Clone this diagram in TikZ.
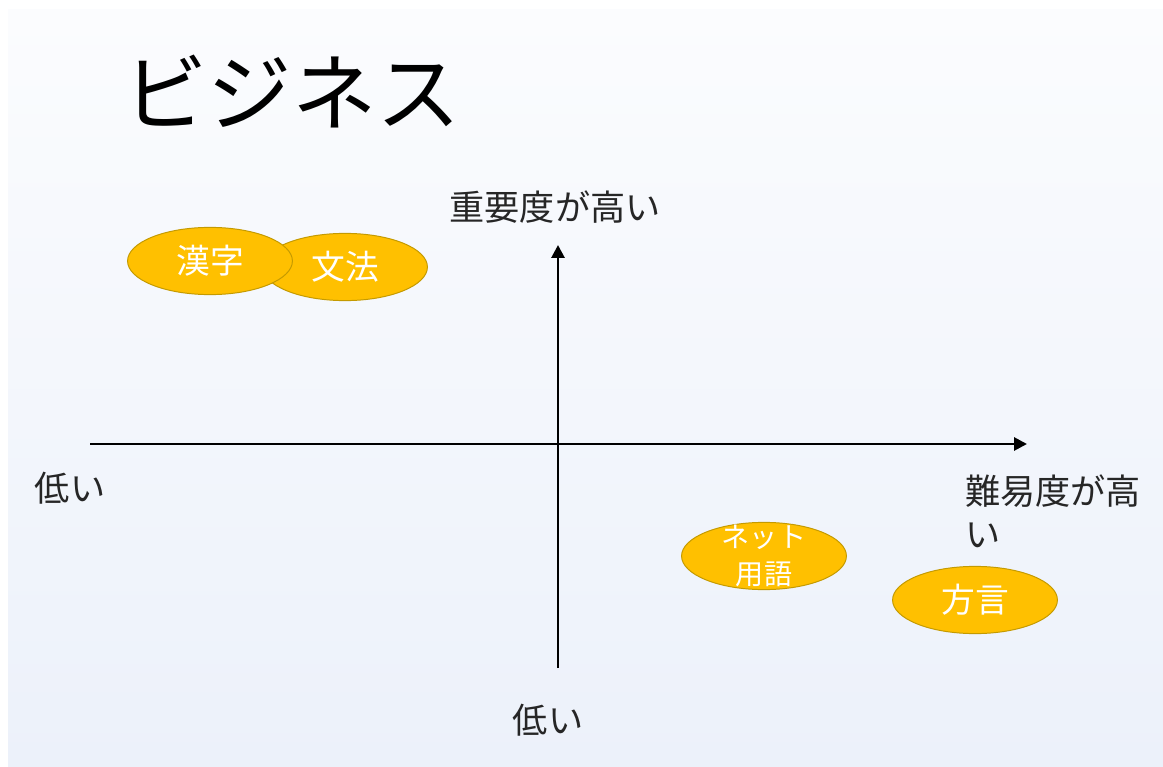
\documentclass[tikz,border=0pt]{standalone}
\usepackage{fontspec}
\setmainfont{Noto Sans CJK JP}
\usetikzlibrary{shapes.geometric,arrows.meta}
\definecolor{slidetop}{HTML}{FBFCFE}
\definecolor{slidebot}{HTML}{ECF1FA}
\definecolor{gold}{HTML}{FFC000}
\definecolor{golddark}{HTML}{C49A00}
\definecolor{labelgray}{HTML}{262626}
\tikzset{
    topic/.style={ellipse,draw=golddark,fill=gold,line width=0.7pt,
        minimum width=4.12cm,minimum height=1.68cm,inner sep=0pt,
        text=white,font=\fontsize{24}{28}\selectfont},
    topictext/.style={text=white,inner sep=0pt,align=center,
        font=\fontsize{20}{26}\selectfont},
    axislabel/.style={text=labelgray,inner sep=0pt,
        font=\fontsize{25}{31}\selectfont},
    axis/.style={line width=2pt,-{Triangle[length=0.32cm,width=0.32cm]}}
}

\begin{document}
\begin{tikzpicture}[x=0.025cm,y=-0.025cm]
    % slide
    \fill[white] (0,0) rectangle (1163,767);
    \useasboundingbox (0,0) rectangle (1163,767);
    \shade[top color=slidetop,bottom color=slidebot] (8,10) rectangle (1163,767);

    \node[font=\fontsize{60}{68}\selectfont] (title) at (292,92) {ビジネス};

    % axes
    \coordinate (xl) at (90,444);
    \coordinate (xr) at (1027,444);
    \coordinate (yb) at (558,668);
    \coordinate (yt) at (558,245);
    \draw[axis] (xl) -- (xr);
    \draw[axis] (yb) -- (yt);

    \node[axislabel] (ytop) at (555,207) {重要度が高い};
    \node[axislabel] (ybot) at (548,720) {低い};
    \node[axislabel] (xleft) at (70,488) {低い};
    \node[axislabel,align=left,anchor=north west] (xright) at (965,474) {難易度が高\\い};

    % topics
    \node[topic] (bunpo) at (345,267) {文法};
    \node[topic] (kanji) at (210,261) {漢字};
    \node[topic] (net) at (764,556) {};
    \node[topictext] (nettext) at (net) {ネット\\用語};
    \node[topic] (hogen) at (975,600) {方言};
\end{tikzpicture}
\end{document}
